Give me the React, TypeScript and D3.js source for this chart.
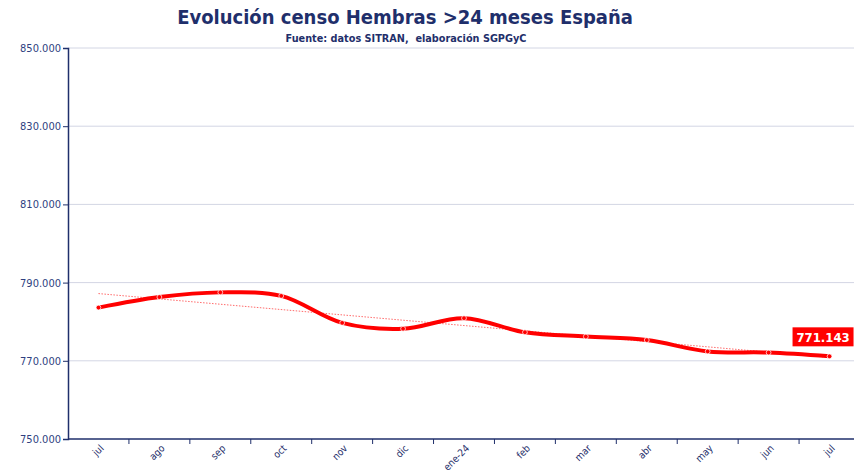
import React, { useEffect, useRef } from "react";
import * as d3 from "d3";

// meses (jul-23 .. jul-24)
const months = ["jul", "ago", "sep", "oct", "nov", "dic", "ene-24", "feb", "mar", "abr", "may", "jun", "jul2"];
const monthLabels = ["jul", "ago", "sep", "oct", "nov", "dic", "ene-24", "feb", "mar", "abr", "may", "jun", "jul"];
// censo hembras >24 meses (miles)
const censo = [783.6, 786.3, 787.5, 786.6, 779.7, 778.2, 780.9, 777.3, 776.2, 775.3, 772.4, 772.1, 771.143];
const yTicks = [750, 770, 790, 810, 830, 850];

const W = 854;
const H = 475;
const margin = { top: 48, right: -6, bottom: 36, left: 68 };
const navy = "#1f2f6b";
const font = "'DejaVu Sans Condensed', 'DejaVu Sans', sans-serif";
const fmt = (v: number) => d3.format(".3f")(v).replace(",", "");

const App = () => {
  const ref = useRef<SVGSVGElement>(null);

  useEffect(() => {
    if (!ref.current) return;
    const svg = d3.select(ref.current);
    svg.selectAll("*").remove();

    const x = d3.scaleBand().domain(months).range([margin.left, W - margin.right]);
    const y = d3.scaleLinear().domain([750, 850]).range([H - margin.bottom, margin.top]);
    const cx = (i: number) => (x(months[i]) as number) + x.bandwidth() / 2;

    // gridlines
    svg
      .append("g")
      .selectAll("line")
      .data(yTicks.slice(1))
      .enter()
      .append("line")
      .attr("x1", margin.left)
      .attr("x2", W - margin.right)
      .attr("y1", (d) => y(d))
      .attr("y2", (d) => y(d))
      .attr("stroke", "#d3d6e4")
      .attr("stroke-width", 1);

    // y axis
    const yAxis = d3
      .axisLeft(y)
      .tickValues(yTicks)
      .tickSize(5)
      .tickFormat((d) => fmt(d as number));
    const gy = svg.append("g").attr("transform", `translate(${margin.left},0)`).call(yAxis);
    gy.select(".domain").attr("stroke", navy).attr("stroke-width", 1.5);
    gy.selectAll(".tick line").attr("stroke", navy);
    gy.selectAll(".tick text")
      .attr("fill", "#2f3f7f")
      .attr("font-family", font)
      .attr("font-size", 11)
      .attr("x", -7);

    // x axis: ticks on band boundaries
    const xb = H - margin.bottom;
    const g = svg.append("g");
    g.append("line")
      .attr("x1", margin.left)
      .attr("x2", W)
      .attr("y1", xb)
      .attr("y2", xb)
      .attr("stroke", navy)
      .attr("stroke-width", 1.5);
    g.selectAll("line.tk")
      .data(months)
      .enter()
      .append("line")
      .attr("class", "tk")
      .attr("x1", (d) => (x(d) as number) + x.bandwidth())
      .attr("x2", (d) => (x(d) as number) + x.bandwidth())
      .attr("y1", xb)
      .attr("y2", xb + 5)
      .attr("stroke", navy);
    g.selectAll("text")
      .data(months)
      .enter()
      .append("text")
      .attr("transform", (d, i) => `translate(${cx(i) + 1},${xb + 5}) rotate(-45)`)
      .attr("text-anchor", "end")
      .attr("dy", "0.7em")
      .attr("fill", navy)
      .attr("font-family", font)
      .attr("font-size", 10)
      .text((d, i) => monthLabels[i]);

    // trend line (linear fit)
    const n = censo.length;
    const mx = d3.mean(d3.range(n)) as number;
    const my = d3.mean(censo) as number;
    const slope =
      d3.sum(censo, (v, i) => (i - mx) * (v - my)) / d3.sum(d3.range(n), (i) => (i - mx) * (i - mx));
    const trend = (i: number) => my + slope * (i - mx);
    svg
      .append("line")
      .attr("x1", cx(0))
      .attr("x2", cx(n - 1))
      .attr("y1", y(trend(0)))
      .attr("y2", y(trend(n - 1)))
      .attr("stroke", "#ff6b6b")
      .attr("stroke-width", 1)
      .attr("stroke-dasharray", "1.5,1.5");

    // smoothed series
    const line = d3
      .line<number>()
      .x((d, i) => cx(i))
      .y((d) => y(d))
      .curve(d3.curveCatmullRom.alpha(0.5));
    svg
      .append("path")
      .datum(censo)
      .attr("fill", "none")
      .attr("stroke", "#ff0000")
      .attr("stroke-width", 4)
      .attr("d", line);

    svg
      .selectAll("circle")
      .data(censo)
      .enter()
      .append("circle")
      .attr("cx", (d, i) => cx(i))
      .attr("cy", (d) => y(d))
      .attr("r", 2.4)
      .attr("fill", "#ff0000")
      .attr("stroke", "#fff")
      .attr("stroke-width", 0.7);

    // last value label
    const last = censo[n - 1];
    const lab = svg.append("g").attr("transform", `translate(${cx(n - 1) - 37},${y(last) - 29})`);
    lab.append("rect").attr("width", 61).attr("height", 19).attr("fill", "#ff0000");
    lab
      .append("text")
      .attr("x", 30.5)
      .attr("y", 14.5)
      .attr("text-anchor", "middle")
      .attr("fill", "#fff")
      .attr("font-family", font)
      .attr("font-weight", "bold")
      .attr("font-size", 13)
      .text(fmt(last));

    // titles
    svg
      .append("text")
      .attr("x", 405)
      .attr("y", 24)
      .attr("text-anchor", "middle")
      .attr("fill", navy)
      .attr("font-family", font)
      .attr("font-weight", "bold")
      .attr("font-size", 20)
      .text("Evolución censo Hembras >24 meses España");
    svg
      .append("text")
      .attr("x", 406)
      .attr("y", 42)
      .attr("text-anchor", "middle")
      .attr("fill", navy)
      .attr("font-family", font)
      .attr("font-weight", "bold")
      .attr("font-size", 10.8)
      .attr("xml:space", "preserve")
      .text("Fuente: datos SITRAN,  elaboración SGPGyC");
  }, []);

  return (
    <svg
      ref={ref}
      width={W}
      height={H}
      style={{ position: "absolute", left: 0, top: 0, background: "#fff", display: "block" }}
    />
  );
};

export default App;
